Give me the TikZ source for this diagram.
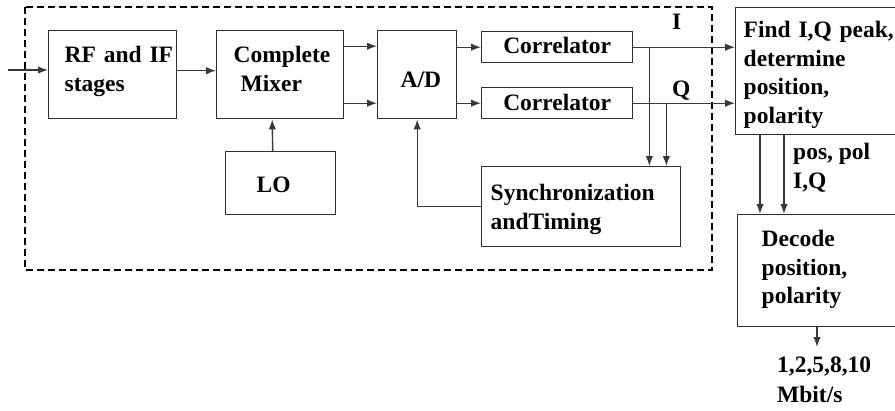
\documentclass[tikz,border=0pt]{standalone}
\usepackage{fontspec}
\setmainfont{Liberation Serif}
\usetikzlibrary{arrows.meta,calc}
\begin{document}
\begin{tikzpicture}[x=1pt,y=-1pt,
  txt/.style={font=\fontsize{23.5}{28.5}\selectfont\bfseries},
  box/.style={txt, draw=black!82, line width=1.4pt, inner ysep=0pt, anchor=north west, align=left},
  arr/.style={draw=black!78, line width=1.4pt, -{Latex[length=10pt,width=7.5pt]}},
  lbl/.style={txt, inner sep=0pt, align=left},
  frame/.style={draw=black, line width=1.9pt, dash pattern=on 7pt off 4pt}]
\useasboundingbox (0,0) rectangle (895,410);
% dashed frame
\draw[frame] (25,7) rectangle (712,270);
% boxes
\node[box, minimum width=128pt, minimum height=88pt, inner xsep=16pt, text width=96pt,
      text height=16pt, text depth=40pt] (rf) at (48,30) {RF~and~IF\\stages};
\node[box, minimum width=127pt, minimum height=88pt, inner xsep=17pt, text width=93pt,
      text height=16pt, text depth=40pt] (mix) at (216,30) {Complete\\\hspace*{7pt}Mixer};
\node[box, minimum width=110pt, minimum height=63pt, inner xsep=31pt, text width=48pt,
      text height=24pt, text depth=5pt] (lo) at (225,151) {LO};
\node[box, minimum width=79pt, minimum height=88pt, inner xsep=23pt, text width=33pt,
      text height=30pt, text depth=5pt] (ad) at (377,30) {A/D};
\node[box, minimum width=151pt, minimum height=31pt, inner xsep=0pt, align=center,
      text height=18pt, text depth=5pt] (c1) at (481,31) {Correlator};
\node[box, minimum width=151pt, minimum height=31pt, inner xsep=0pt, align=center,
      text height=19pt, text depth=5pt] (c2) at (481,87) {Correlator};
\node[box, minimum height=80pt, inner xsep=9pt, text width=181pt,
      text height=16pt, text depth=28pt] (sync) at (481,166) {Synchronization\\andTiming};
\node[box, minimum height=127pt, inner xsep=8pt, text width=150pt,
      text height=16pt, text depth=83pt] (find) at (735,7) {Find~I,Q~peak,\\determine\\position,\\polarity};
\node[box, minimum height=112pt, inner xsep=24pt, text width=112pt,
      text height=16pt, text depth=64pt] (dec) at (737,214) {Decode\\position,\\polarity};
% labels
\node[lbl, anchor=base west] (li) at (672,29) {I};
\node[lbl, anchor=base west] (lq) at (672,96) {Q};
\node[lbl, anchor=north west] (lp) at (793,143) {pos, pol\\I,Q};
\node[lbl, anchor=north west] (lr) at (777,357) {1,2,5,8,10\\[1.5pt]Mbit/s};
% connectors
\coordinate (in) at (8,70);
\draw[arr] (in) -- (in -| rf.west);
\draw[arr] ([yshift=4pt]rf.east) -- ([yshift=4pt]mix.west);
\draw[arr] ([yshift=28.5pt]mix.east) -- ([yshift=28.5pt]ad.west);
\draw[arr] ([yshift=-28.5pt]mix.east) -- ([yshift=-28.5pt]ad.west);
\draw[arr] (ad.east |- c1.west) -- (c1.west);
\draw[arr] (ad.east |- c2.west) -- (c2.west);
\draw[arr] ([xshift=-8pt]lo.north) -- ([xshift=-8pt]mix.south);
\draw[arr] (sync.west) -| (ad.south);
\draw[arr] (c1.east) -- (c1.east -| find.west);
\draw[arr] (c2.east) -- (c2.east -| find.west);
\coordinate (bi) at ($(c1.east)+(16,0)$);
\coordinate (bq) at ($(c2.east)+(33,0)$);
\draw[arr] (bi) -- (bi |- sync.north);
\draw[arr] (bq) -- (bq |- sync.north);
\coordinate (f1) at ([xshift=25pt]find.south west);
\coordinate (f2) at ([xshift=49pt]find.south west);
\draw[arr] (f1) -- (f1 |- dec.north);
\draw[arr] (f2) -- (f2 |- dec.north);
\coordinate (out) at (817,347);
\draw[arr] (out |- dec.south) -- (out);
\end{tikzpicture}
\end{document}
